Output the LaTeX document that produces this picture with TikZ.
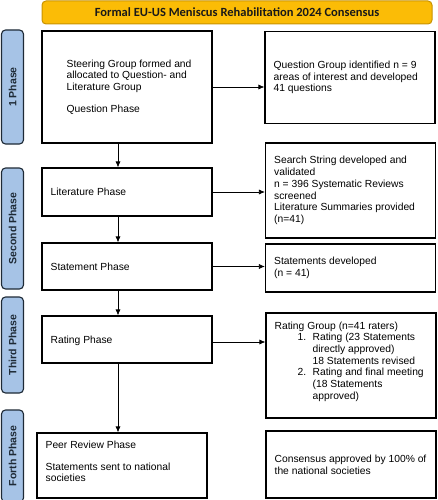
\documentclass[tikz,border=0pt]{standalone}
\usepackage{fontspec}
\setmainfont{Liberation Sans}
\newfontfamily\titlefont{Carlito}
\usetikzlibrary{arrows.meta,calc}
\definecolor{gold}{HTML}{FBBC06}
\definecolor{goldline}{HTML}{C89200}
\definecolor{phaseblue}{HTML}{A6C3E6}
\definecolor{phaseline}{HTML}{1E2A36}
\begin{document}
\begin{tikzpicture}[x=1pt,y=-1pt,
  box/.style={draw=black,line width=1.1pt,fill=white,inner sep=0pt,minimum width=170pt},
  txt/.style={align=left,inner sep=0pt,anchor=west,font=\fontsize{10.3}{11.7}\selectfont},
  phase/.style={draw=phaseline,fill=phaseblue,line width=1.1pt,rounded corners=4pt,inner sep=0pt,minimum width=22pt},
  phasetxt/.style={rotate=90,inner sep=0pt,font=\bfseries\fontsize{10.5}{12}\selectfont,text=phaseline},
  arr/.style={line width=0.7pt,-{Latex[length=6pt,width=5pt]}}
]
\useasboundingbox (0,0) rectangle (437,500);
% title
\node[draw=goldline,fill=gold,line width=1pt,rounded corners=4pt,minimum width=390pt,minimum height=23pt,inner sep=0pt] (title) at (237,12.5) {};
\node[inner sep=0pt,font=\titlefont\bfseries\fontsize{12.5}{14}\selectfont,text=black!90] (titlet) at (title.center) {Formal EU-US Meniscus Rehabilitation 2024 Consensus};
% phase labels
\node[phase,minimum height=114pt] (p1) at (12.5,87) {};
\node[phasetxt] (p1t) at (p1.center) {1 Phase};
\node[phase,minimum height=121pt] (p2) at (12.5,228.5) {};
\node[phasetxt] (p2t) at (p2.center) {Second Phase};
\node[phase,minimum height=96pt] (p3) at (12.5,345) {};
\node[phasetxt] (p3t) at (p3.center) {Third Phase};
\node[phase,minimum height=92pt] (p4) at (12.5,456) {};
\node[phasetxt] (p4t) at (p4.center) {Forth Phase};
% left boxes
\node[box,minimum height=112pt] (b1) at (127,87) {};
\node[txt] (b1t) at ([xshift=25pt]b1.west) {Steering Group formed and\\allocated to Question- and\\Literature Group\\[10pt]Question Phase};
\node[box,minimum height=48pt] (b2) at (127,192) {};
\node[txt] (b2t) at ([xshift=9pt]b2.west) {Literature Phase};
\node[box,minimum height=47pt] (b3) at (127,266.5) {};
\node[txt] (b3t) at ([xshift=9pt]b3.west) {Statement Phase};
\node[box,minimum height=47pt] (b4) at (127,339.5) {};
\node[txt] (b4t) at ([xshift=9pt,yshift=-1.5pt]b4.west) {Rating Phase};
\node[box,minimum height=65pt] (b5) at (122,465.5) {};
\node[txt] (b5t) at ([xshift=9pt,yshift=4pt]b5.west) {Peer Review Phase\\[10pt]Statements sent to national\\societies};
% right boxes
\node[box,minimum height=92pt] (r1) at (350,77.5) {};
\node[txt] (r1t) at ([xshift=9pt]r1.west) {Question Group identified n = 9\\areas of interest and developed\\41 questions};
\node[box,minimum height=95pt] (r2) at (350.5,190.5) {};
\node[txt] (r2t) at ([xshift=9pt]r2.west) {Search String developed and\\validated\\n = 396 Systematic Reviews\\screened\\Literature Summaries provided\\(n=41)};
\node[box,minimum height=48pt] (r3) at (350.5,268) {};
\node[txt] (r3t) at ([xshift=9pt]r3.west) {Statements developed\\(n = 41)};
\node[box,minimum height=105pt] (r4) at (351,365.5) {};
\node[txt] (r4t) at ([xshift=9pt,yshift=4pt]r4.west) {Rating Group (n=41 raters)\\
\hspace*{23pt}\makebox[15pt][l]{1.}Rating (23 Statements\\
\hspace*{38pt}directly approved)\\
\hspace*{38pt}18 Statements revised\\
\hspace*{23pt}\makebox[15pt][l]{2.}Rating and final meeting\\
\hspace*{38pt}(18 Statements\\
\hspace*{38pt}approved)};
\node[box,minimum height=67pt] (r5) at (351,464.5) {};
\node[txt] (r5t) at ([xshift=9pt]r5.west) {Consensus approved by 100\% of\\the national societies};
% connectors
\coordinate (ax) at (118,0);
\coordinate (b4e) at ([yshift=-2.5pt]b4.east);
\draw[arr] (b1.south -| ax) -- (b2.north -| ax);
\draw[arr] (b2.south -| ax) -- (b3.north -| ax);
\draw[arr] (b3.south -| ax) -- (b4.north -| ax);
\draw[arr] (b4.south -| ax) -- (b5.north -| ax);
\draw[arr] (b1.east) -- (r1.west |- b1.east);
\draw[arr] (b2.east) -- (r2.west |- b2.east);
\draw[arr] (b3.east) -- (r3.west |- b3.east);
\draw[arr] (b4e) -- (r4.west |- b4e);
\end{tikzpicture}
\end{document}
